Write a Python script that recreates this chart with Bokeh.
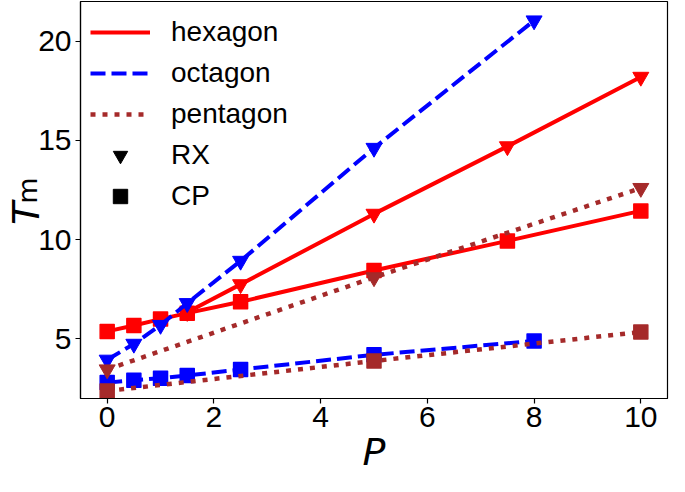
from bokeh.plotting import figure
from bokeh.models import Legend, LegendItem, FixedTicker, Range1d, LinearAxis
from bokeh.embed import file_html
from bokeh.resources import INLINE

# ---- data ----
hex_rx_P = [1.5, 2.5, 5.0, 7.5, 10.0]
hex_rx_T = [6.35, 7.75, 11.3, 14.7, 18.2]
hex_cp_P = [0.0, 0.5, 1.0, 1.5, 2.5, 5.0, 7.5, 10.0]
hex_cp_T = [5.38, 5.68, 6.0, 6.3, 6.87, 8.45, 9.94, 11.45]
oct_rx_P = [0.0, 0.5, 1.0, 1.5, 2.5, 5.0, 8.0]
oct_rx_T = [3.95, 4.75, 5.7, 6.8, 8.93, 14.62, 21.04]
oct_cp_P = [0.0, 0.5, 1.0, 1.5, 2.5, 5.0, 8.0]
oct_cp_T = [2.8, 2.92, 3.02, 3.16, 3.46, 4.2, 4.9]
pen_rx_P = [0.0, 5.0, 10.0]
pen_rx_T = [3.46, 8.1, 12.6]
pen_cp_P = [0.0, 5.0, 10.0]
pen_cp_T = [2.38, 3.89, 5.35]

x_ticks = [0, 2, 4, 6, 8, 10]
y_ticks = [5, 10, 15, 20]
series_names = ["hexagon", "octagon", "pentagon"]
marker_names = ["RX", "CP"]
x_label = "P"
y_label_main = "T"
y_label_sub = "m"

RED, BLUE, BROWN = "#ff0000", "#0000ff", "#a52a2a"
DASH = {"hexagon": "solid", "octagon": "15 6", "pentagon": "5 7"}
LWS = {"hexagon": 4, "octagon": 4, "pentagon": 4.5}
COL = {"hexagon": RED, "octagon": BLUE, "pentagon": BROWN}

W, H = 669, 476
FL, FR, FT, FB = 73, 2, 1, 68

p = figure(width=W, height=H, x_range=Range1d(-0.5, 10.5),
           y_range=Range1d(2.0, 22.0),
           output_backend="svg", toolbar_location=None,
           min_border_left=FL, min_border_right=FR, min_border_top=FT,
           min_border_bottom=FB)
p.xgrid.visible = False
p.ygrid.visible = False
p.outline_line_color = "black"
p.outline_line_width = 1.2
p.background_fill_color = "white"
p.border_fill_color = "white"

for ax in (p.xaxis, p.yaxis):
    ax.axis_line_color = "black"
    ax.axis_line_width = 1.2
    ax.major_tick_line_color = "black"
    ax.major_tick_line_width = 1.2
    ax.major_tick_out = 5
    ax.major_tick_in = 0
    ax.minor_tick_line_color = None
    ax.major_label_text_font = "Liberation Sans"
    ax.major_label_text_font_size = "30px"
    ax.major_label_text_color = "black"
p.xaxis.major_label_standoff = 3
p.yaxis.major_label_standoff = 4
p.xaxis.ticker = FixedTicker(ticks=x_ticks)
p.yaxis.ticker = FixedTicker(ticks=y_ticks)

# x label: italic P
p.xaxis.axis_label = x_label
p.xaxis.axis_label_text_font = "DejaVu Sans"
p.xaxis.axis_label_text_font_style = "italic"
p.xaxis.axis_label_text_font_size = "38px"
p.xaxis.axis_label_text_color = "black"
p.xaxis.axis_label_text_line_height = 0.6
p.xaxis.axis_label_standoff = 0

# y label: subscript "m" on the inner axis, italic "T" on an outer, bare axis
p.yaxis.axis_label = "\u2002\u2009" + y_label_sub
p.yaxis.axis_label_text_font = "DejaVu Sans"
p.yaxis.axis_label_text_font_style = "normal"
p.yaxis.axis_label_text_font_size = "27px"
p.yaxis.axis_label_text_color = "black"
p.yaxis.axis_label_standoff = -8

ax_t = LinearAxis(ticker=FixedTicker(ticks=[]), axis_line_color=None,
                  major_tick_line_color=None, minor_tick_line_color=None,
                  major_tick_out=0, major_tick_in=0, minor_tick_out=0,
                  major_label_standoff=0, major_label_text_font_size="0px",
                  axis_label=y_label_main + "\u2002\u2009",
                  axis_label_text_font="DejaVu Sans",
                  axis_label_text_font_style="italic",
                  axis_label_text_font_size="38px",
                  axis_label_text_color="black",
                  axis_label_standoff=-38)
p.add_layout(ax_t, "left")

SQ, TR = 14, 16


def series(name, xs, ys, marker):
    c = COL[name]
    ln = p.line(xs, ys, line_color=c, line_width=LWS[name], line_dash=DASH[name])
    if marker == "RX":
        p.scatter(xs, ys, marker="inverted_triangle", size=TR, fill_color=c,
                  line_color=c, line_width=1, line_join="round")
    else:
        p.scatter(xs, ys, marker="square", size=SQ, fill_color=c,
                  line_color=c, line_width=1.5, line_join="round")
    return ln


l_hex = series("hexagon", hex_rx_P, hex_rx_T, "RX")
series("hexagon", hex_cp_P, hex_cp_T, "CP")
l_oct = series("octagon", oct_rx_P, oct_rx_T, "RX")
series("octagon", oct_cp_P, oct_cp_T, "CP")
l_pen = series("pentagon", pen_rx_P, pen_rx_T, "RX")
series("pentagon", pen_cp_P, pen_cp_T, "CP")

# black marker keys for the legend (hidden in the plot itself)
r_rx = p.scatter(hex_rx_P, hex_rx_T, marker="inverted_triangle", size=15,
                 fill_color="black", line_color="black", visible=False)
r_cp = p.scatter(hex_cp_P, hex_cp_T, marker="square", fill_color="black",
                 line_color="black", line_join="round", size=14, visible=False)

items = [LegendItem(label=series_names[0], renderers=[l_hex]),
         LegendItem(label=series_names[1], renderers=[l_oct]),
         LegendItem(label=series_names[2], renderers=[l_pen]),
         LegendItem(label=marker_names[0], renderers=[r_rx]),
         LegendItem(label=marker_names[1], renderers=[r_cp])]

legend = Legend(items=items, location="top_left", margin=0, padding=10,
                spacing=0, glyph_width=60, glyph_height=36, label_height=41,
                label_standoff=21, label_text_font="Liberation Sans",
                label_text_font_size="28px", label_text_color="black",
                background_fill_alpha=0, border_line_alpha=0,
                inactive_fill_alpha=0)
p.add_layout(legend)

open("out.html", "w").write(file_html(p, INLINE))
